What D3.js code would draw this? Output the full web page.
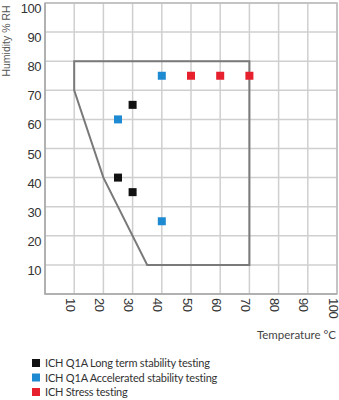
<!DOCTYPE html>
<html><head><meta charset="utf-8">
<script src="https://cdn.jsdelivr.net/npm/d3@7"></script>
<style>body{margin:0;background:#fff}</style>
</head><body>
<svg id="c" width="339" height="400"></svg>
<script>
const xTicks = [10,20,30,40,50,60,70,80,90,100];
const yTicks = [10,20,30,40,50,60,70,80,90,100];
const seriesNames = ["ICH Q1A Long term stability testing","ICH Q1A Accelerated stability testing","ICH Stress testing"];
const seriesColors = ["#111111","#1e8ad2","#e6202c"];
const longTerm = [[30,65],[25,40],[30,35]];
const accelerated = [[25,60],[40,75],[40,25]];
const stress = [[50,75],[60,75],[70,75]];
const zone = [[10,70],[10,80],[70,80],[70,10],[35,10],[20,40]];

const svg = d3.select("#c");
const x = d3.scaleLinear().domain([0,100]).range([45,337]);
const y = d3.scaleLinear().domain([0,100]).range([294,3]);

// grid
const g = svg.append("g");
g.selectAll("line.v").data(xTicks).join("line")
  .attr("x1",d=>x(d)).attr("x2",d=>x(d)).attr("y1",y(0)).attr("y2",y(100))
  .attr("stroke","#cfcfcf").attr("stroke-width",1.5);
g.selectAll("line.h").data(yTicks).join("line")
  .attr("y1",d=>y(d)).attr("y2",d=>y(d)).attr("x1",x(0)).attr("x2",x(100))
  .attr("stroke","#cfcfcf").attr("stroke-width",1.5);
// frame
svg.append("rect").attr("x",x(0)).attr("y",y(100)).attr("width",x(100)-x(0)).attr("height",y(0)-y(100))
  .attr("fill","none").attr("stroke","#bdbdbd").attr("stroke-width",1.5);
svg.append("path").attr("d",`M${x(0)},${y(100)}V${y(0)}H${x(100)}`).attr("fill","none").attr("stroke","#a8a8a8").attr("stroke-width",1.5);

// zone polygon
svg.append("path").datum(zone)
  .attr("d", d3.line().x(d=>x(d[0])).y(d=>y(d[1])).curve(d3.curveLinearClosed))
  .attr("fill","none").attr("stroke","#7a7a7a").attr("stroke-width",2);

// points
const all = [longTerm, accelerated, stress];
all.forEach((s,i)=>{
  svg.selectAll(null).data(s).join("rect")
    .attr("x",d=>x(d[0])-4).attr("y",d=>y(d[1])-4).attr("width",8).attr("height",8)
    .attr("fill",seriesColors[i]);
});

// y tick labels
svg.selectAll("text.yt").data(yTicks).join("text")
  .attr("x",41).attr("y",d=>y(d)+10).attr("text-anchor","end")
  .attr("font-family","Liberation Sans, Arial, sans-serif").attr("font-size",13).attr("fill","#333")
  .attr("letter-spacing","-0.5")
  .text(d=>d);
// x tick labels rotated
svg.selectAll("text.xt").data(xTicks).join("text")
  .attr("transform",d=>`translate(${x(d)-4},298) rotate(90)`)
  .attr("text-anchor","start").attr("dominant-baseline","central")
  .attr("font-family","Liberation Sans, Arial, sans-serif").attr("font-size",13).attr("fill","#333")
  .attr("letter-spacing","-0.5")
  .text(d=>d);

// axis titles
svg.append("text").attr("transform",`translate(10,41) rotate(-90)`).attr("text-anchor","middle")
  .attr("font-family","Liberation Sans, Arial, sans-serif").attr("font-size",10.5).attr("fill","#555")
  .text("Humidity % RH");
svg.append("text").attr("x",336).attr("y",339).attr("text-anchor","end")
  .attr("font-family","Lato, sans-serif").attr("font-size",11.5).attr("fill","#444")
  .text("Temperature °C");

// legend
const lg = svg.append("g");
seriesNames.forEach((n,i)=>{
  const cy = 363 + i*14.5;
  lg.append("rect").attr("x",32).attr("y",cy-4).attr("width",8).attr("height",8).attr("fill",seriesColors[i]);
  lg.append("text").attr("x",45).attr("y",cy+4)
    .attr("font-family","Lato, sans-serif").attr("font-size",11).attr("fill","#333")
    .attr("letter-spacing","-0.2").text(n);
});
</script>
</body></html>
